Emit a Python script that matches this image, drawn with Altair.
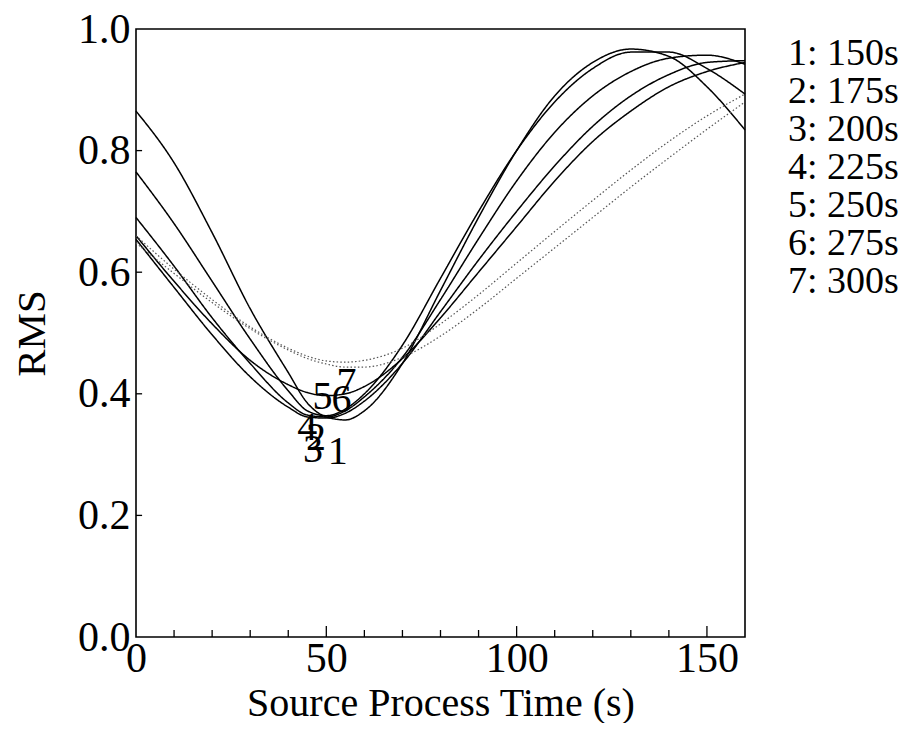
import altair as alt
import pandas as pd

# ---- data ----
t_grid = [0, 10, 20, 30, 40, 45, 50, 55, 60, 70, 80, 90, 100, 110, 120, 130, 140, 150, 160]

rms_150 = [0.865, 0.78, 0.665, 0.54, 0.435, 0.385, 0.362, 0.357, 0.372, 0.45, 0.57, 0.69, 0.80, 0.89, 0.945, 0.967, 0.955, 0.905, 0.834]
rms_175 = [0.765, 0.68, 0.585, 0.49, 0.405, 0.372, 0.364, 0.375, 0.40, 0.48, 0.59, 0.70, 0.80, 0.88, 0.935, 0.962, 0.962, 0.935, 0.893]
rms_200 = [0.69, 0.61, 0.525, 0.45, 0.385, 0.365, 0.362, 0.372, 0.395, 0.46, 0.555, 0.655, 0.75, 0.83, 0.89, 0.93, 0.952, 0.957, 0.942]
rms_225 = [0.654, 0.575, 0.497, 0.428, 0.378, 0.362, 0.36, 0.368, 0.388, 0.45, 0.535, 0.62, 0.70, 0.775, 0.84, 0.89, 0.925, 0.945, 0.948]
rms_250 = [0.66, 0.585, 0.515, 0.455, 0.415, 0.402, 0.397, 0.40, 0.412, 0.458, 0.525, 0.60, 0.675, 0.75, 0.815, 0.865, 0.905, 0.93, 0.945]
rms_275 = [0.66, 0.605, 0.555, 0.51, 0.475, 0.462, 0.454, 0.452, 0.455, 0.475, 0.515, 0.563, 0.615, 0.667, 0.718, 0.768, 0.815, 0.857, 0.893]
rms_300 = [0.648, 0.598, 0.55, 0.507, 0.472, 0.458, 0.449, 0.444, 0.444, 0.46, 0.495, 0.54, 0.59, 0.64, 0.69, 0.74, 0.788, 0.835, 0.88]

series_names = ["1: 150s", "2: 175s", "3: 200s", "4: 225s", "5: 250s", "6: 275s", "7: 300s"]
series_values = [rms_150, rms_175, rms_200, rms_225, rms_250, rms_275, rms_300]
dotted_names = ["6: 275s", "7: 300s"]

label_text = ["1", "2", "3", "4", "5", "6", "7"]
label_x = [53.0, 47.3, 46.5, 45.0, 49.0, 54.0, 55.3]
label_y = [0.304, 0.327, 0.308, 0.343, 0.394, 0.389, 0.417]

x_label_values = [0, 50, 100, 150]
y_label_values = [0.0, 0.2, 0.4, 0.6, 0.8, 1.0]
x_tick_values = [10, 20, 30, 40, 50, 60, 70, 80, 90, 100, 110, 120, 130, 140, 150]
y_tick_values = [0.2, 0.4, 0.6, 0.8]

# ---- tables ----
rows = []
for name, vals in zip(series_names, series_values):
    for t, v in zip(t_grid, vals):
        rows.append({"name": name, "t": t, "rms": v})
df = pd.DataFrame(rows)
df_solid = df[~df["name"].isin(dotted_names)]
df_dot = df[df["name"].isin(dotted_names)]

labels_df = pd.DataFrame({"txt": label_text, "t": label_x, "rms": label_y})

xt_df = pd.DataFrame({"t": x_tick_values})
xt_df["y0"] = 0.0
xt_df["y1"] = [0.018 if v % 50 == 0 else 0.0115 for v in x_tick_values]

yt_df = pd.DataFrame({"rms": y_tick_values})
yt_df["x0"] = 0.0
yt_df["x1"] = 1.6

FONT = "Liberation Serif"

xscale = alt.Scale(domain=[0, 160], nice=False, zero=False)
yscale = alt.Scale(domain=[0, 1], nice=False, zero=False)

x_axis = alt.Axis(
    values=x_label_values, title="Source Process Time (s)", ticks=False, domain=False,
    grid=False, labelFont=FONT, labelFontSize=42, labelColor="black", labelPadding=1,
    labelFlush=False, labelOverlap=False, titleFont=FONT, titleFontSize=40,
    titleFontWeight="normal", titleColor="black", titleBaseline="alphabetic", titleY=78,
)
y_axis = alt.Axis(
    values=y_label_values, format=".1f", title="RMS", ticks=False, domain=False,
    grid=False, labelFont=FONT, labelFontSize=42, labelColor="black", labelPadding=6,
    labelFlush=False, labelOverlap=False, titleFont=FONT, titleFontSize=41,
    titleFontWeight="normal", titleColor="black", titleBaseline="middle", titleX=-104,
)

dash_range = [[1, 0]] * 5 + [[1.5, 2.2]] * 2
dash_scale = alt.Scale(domain=series_names, range=dash_range)

legend = alt.Legend(
    title=None, orient="none", legendX=614, legendY=6, labelFont=FONT,
    labelFontSize=38, labelColor="black", labelLimit=400, symbolSize=1,
    symbolStrokeWidth=0, symbolOpacity=0, labelOffset=0, rowPadding=-2.6,
    symbolType="stroke", symbolStrokeColor="white",
)

solid = alt.Chart(df_solid).mark_line(
    interpolate="monotone", strokeWidth=1.5, color="black"
).encode(
    x=alt.X("t:Q", scale=xscale, axis=x_axis),
    y=alt.Y("rms:Q", scale=yscale, axis=y_axis),
    strokeDash=alt.StrokeDash("name:N", scale=dash_scale, legend=legend),
    order="t:Q",
)
dotted = alt.Chart(df_dot).mark_line(
    interpolate="monotone", strokeWidth=1.2, color="#555555"
).encode(
    x=alt.X("t:Q", scale=xscale),
    y=alt.Y("rms:Q", scale=yscale),
    strokeDash=alt.StrokeDash("name:N", scale=dash_scale, legend=legend),
    order="t:Q",
)

texts = alt.Chart(labels_df).mark_text(
    font=FONT, fontSize=40, color="black", align="center", baseline="middle"
).encode(x=alt.X("t:Q", scale=xscale), y=alt.Y("rms:Q", scale=yscale), text="txt:N")

xticks = alt.Chart(xt_df).mark_rule(color="black", strokeWidth=1.3).encode(
    x=alt.X("t:Q", scale=xscale), y=alt.Y("y0:Q", scale=yscale), y2="y1:Q"
)
yticks = alt.Chart(yt_df).mark_rule(color="black", strokeWidth=1.3).encode(
    y=alt.Y("rms:Q", scale=yscale), x=alt.X("x0:Q", scale=xscale), x2="x1:Q"
)

chart = alt.layer(solid, dotted, xticks, yticks, texts).properties(
    width=609, height=608,
    autosize=alt.AutoSizeParams(type="none"),
    padding={"left": 128, "top": 21, "right": 171, "bottom": 86},
    background="white",
).configure(
    font=FONT
).configure_legend(
    labelFont=FONT, labelFontSize=38, labelColor="black"
).configure_view(stroke="black", strokeWidth=1.6)

chart.save("out.html", embed_options={"renderer": "svg", "actions": False})
